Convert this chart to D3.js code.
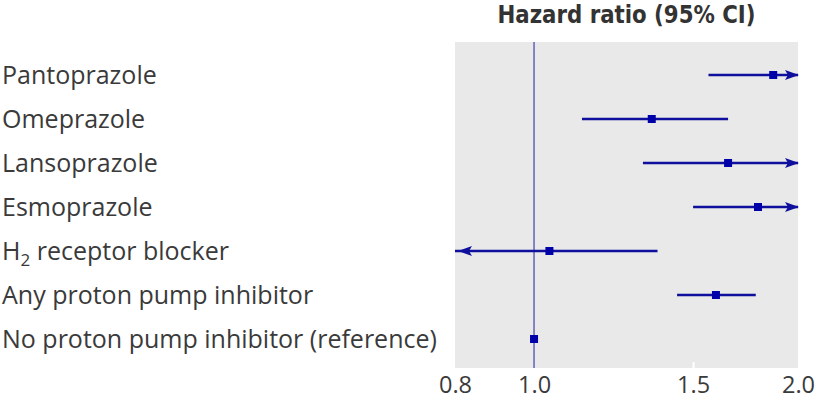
<!DOCTYPE html>
<html><head><meta charset="utf-8">
<script src="https://cdn.jsdelivr.net/npm/d3@7"></script>
<style>
html,body{margin:0;padding:0;background:#fff;}
svg{display:block;}
</style></head>
<body>
<svg id="chart" width="820" height="400"></svg>
<script>
const categories = ["Pantoprazole","Omeprazole","Lansoprazole","Esmoprazole","H2 receptor blocker","Any proton pump inhibitor","No proton pump inhibitor (reference)"];
const hr    = [1.84, 1.35, 1.64, 1.77, 1.04, 1.59, 1.00];
const lower = [1.56, 1.13, 1.32, 1.50, 0.70, 1.44, null];
const upper = [2.20, 1.64, 2.40, 2.15, 1.37, 1.76, null];
const tickValues = [0.8, 1.0, 1.5, 2.0];
const tickLabels = ["0.8", "1.0", "1.5", "2.0"];
const axisTitle = "Hazard ratio (95% CI)";

const svg = d3.select("#chart");
const plot = {left:455, right:798, top:42, bottom:368};
const textColor = "#3a3a3a";
const lineColor = "#0f0f9e";
const markColor = "#0000a8";
const refColor = "#6b6bb8";

const x = d3.scaleLog().domain([0.8175, 1.96]).range([plot.left, plot.right]).clamp(true);
const y = d3.scalePoint().domain(categories).range([75, 339]);
const xMin = x.domain()[0], xMax = x.domain()[1];

svg.append("rect").attr("x", plot.left).attr("y", plot.top)
  .attr("width", plot.right - plot.left).attr("height", plot.bottom - plot.top)
  .attr("fill", "#e9e9e9");

// arrow markers
const defs = svg.append("defs");
defs.append("marker").attr("id","arrowEnd").attr("markerUnits","userSpaceOnUse")
  .attr("viewBox","0 0 14 10").attr("refX",13).attr("refY",5)
  .attr("markerWidth",14).attr("markerHeight",10).attr("orient","auto")
  .append("path").attr("d","M0,0 L14,5 L0,10 L3,5 Z").attr("fill",lineColor);
defs.append("marker").attr("id","arrowStart").attr("markerUnits","userSpaceOnUse")
  .attr("viewBox","0 0 14 10").attr("refX",-3).attr("refY",5)
  .attr("markerWidth",14).attr("markerHeight",10).attr("orient","auto")
  .append("path").attr("d","M14,0 L0,5 L14,10 L11,5 Z").attr("fill",lineColor);

// axis with white tick marks
const axis = d3.axisBottom(x).tickValues(tickValues)
  .tickFormat((d,i) => tickLabels[i]).tickSize(0).tickPadding(0);
const ag = svg.append("g").attr("transform", `translate(0,${plot.bottom})`).call(axis);
ag.select(".domain").remove();
ag.selectAll(".tick text").attr("y", 25).attr("dy", 0)
  .attr("font-family","Open Sans, sans-serif").attr("font-size", 23.5).attr("fill", textColor);
ag.selectAll(".tick").filter(d => d > xMin && d < xMax && d !== 1)
  .append("line").attr("y1", -6).attr("y2", 0).attr("stroke", "#fff").attr("stroke-width", 2);

// reference line
svg.append("line").attr("x1", x(1)).attr("x2", x(1))
  .attr("y1", plot.top).attr("y2", plot.bottom)
  .attr("stroke", refColor).attr("stroke-width", 1.6);

// title
svg.append("text").attr("x", (plot.left + plot.right)/2).attr("y", 23)
  .attr("text-anchor","middle")
  .attr("font-family","DejaVu Sans Condensed, DejaVu Sans, sans-serif")
  .attr("font-weight","bold").attr("font-size", 24).attr("fill", "#333")
  .attr("textLength", 258).attr("lengthAdjust", "spacingAndGlyphs")
  .text(axisTitle);

// CI lines
const rows = categories.map((c,i) => ({c, hr:hr[i], lo:lower[i], hi:upper[i]}));
svg.append("g").selectAll("line").data(rows.filter(d => d.lo !== null)).join("line")
  .attr("x1", d => x(d.lo)).attr("x2", d => x(d.hi))
  .attr("y1", d => y(d.c)).attr("y2", d => y(d.c))
  .attr("stroke", lineColor).attr("stroke-width", 2.6)
  .attr("marker-end", d => d.hi > xMax ? "url(#arrowEnd)" : null)
  .attr("marker-start", d => d.lo < xMin ? "url(#arrowStart)" : null);

// point markers
const s = 8;
svg.append("g").selectAll("rect").data(rows).join("rect")
  .attr("x", d => x(d.hr) - s/2).attr("y", d => y(d.c) - s/2)
  .attr("width", s).attr("height", s).attr("fill", markColor);

// category labels
const lab = svg.append("g").selectAll("text").data(categories).join("text")
  .attr("x", 2).attr("y", d => y(d) + 9)
  .attr("font-family","Open Sans, sans-serif").attr("font-size", 25)
  .attr("fill", textColor);
lab.each(function(d){
  const t = d3.select(this);
  const m = d.match(/^H2(.*)$/);
  if (m) {
    t.append("tspan").text("H");
    t.append("tspan").attr("font-size", 17).attr("dy", 6).text("2");
    t.append("tspan").attr("dy", -6).text(m[1]);
  } else {
    t.text(d);
  }
});
</script>
</body></html>
